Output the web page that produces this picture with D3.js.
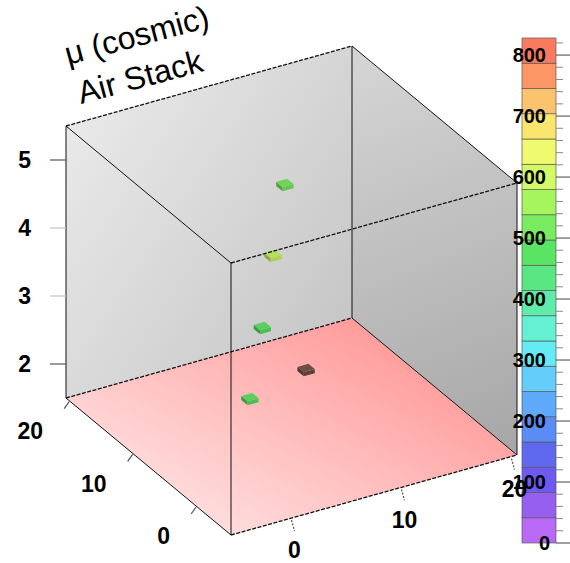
<!DOCTYPE html>
<html>
<head>
<meta charset="utf-8">
<script src="https://cdn.jsdelivr.net/npm/d3@7"></script>
<style>
body { margin: 0; background: #fff; }
text { font-family: "Liberation Sans", Arial, sans-serif; }
</style>
</head>
<body>
<div id="chart"></div>
<script>
// axis ticks
var xTicks = [0, 10, 20],
    yTicks = [0, 10, 20],
    zTicks = [2, 3, 4, 5],
    paletteTicks = [0, 100, 200, 300, 400, 500, 600, 700, 800];

// hits (bin centre x, y, layer z, content)
var hitX = [7.5, 6.45, 5.4, 4.3, 10.5],
    hitY = [8.55, 8.6, 8.45, 8.5, 10.4],
    hitZ = [5, 4, 3, 2, 2],
    hitE = [505, 620, 480, 470, 860];

var titleLines = ['\u03bc (cosmic)', 'Air Stack'];

// palette bands, bottom to top
var bandColors = ['#b969f5', '#965ff0', '#6e5af0', '#5f69f0', '#5a8cf5', '#5fa9fa',
    '#64cdfa', '#64ebf5', '#64f0d2', '#5fecaa', '#5ae682', '#5ae464', '#78eb5f',
    '#a5f55f', '#d2fa64', '#f0fa6e', '#fae66e', '#fcc36e', '#fc9664', '#f97a5e'];

var W = 570, H = 563,
    xRange = [-5.5, 20.5], yRange = [-5.5, 20.5], zRange = [1.5, 5.5], eMax = 828;

var svg = d3.select('#chart').append('svg')
        .attr('width', W)
        .attr('height', H),
    defs = svg.append('defs');

var xS = d3.scaleLinear().domain(xRange).range([0, 1]),
    yS = d3.scaleLinear().domain(yRange).range([0, 1]),
    zS = d3.scaleLinear().domain(zRange).range([0, 1]);

// projection of the box: front-bottom corner and the three edge vectors
var origin = [231, 535], ex = [286, -80], ey = [-165, -137], ez = [0, -272];
var proj = function(x, y, z) {
    var a = xS(x), b = yS(y), c = zS(z);
    return [origin[0] + a*ex[0] + b*ey[0] + c*ez[0],
            origin[1] + a*ex[1] + b*ey[1] + c*ez[1]];
};
var poly = d3.line().curve(d3.curveLinearClosed);

var x0 = xRange[0], x1 = xRange[1], y0 = yRange[0], y1 = yRange[1], z0 = zRange[0], z1 = zRange[1];

var grad = function(id, p, q, c0, c1) {
    var g = defs.append('linearGradient')
        .attr('id', id)
        .attr('gradientUnits', 'userSpaceOnUse')
        .attr('x1', p[0]).attr('y1', p[1]).attr('x2', q[0]).attr('y2', q[1]);
    g.append('stop').attr('offset', 0).attr('stop-color', c0);
    g.append('stop').attr('offset', 1).attr('stop-color', c1);
};
grad('gLeft', proj(x0, y1, z1), proj(x1, y1, z0), '#e9e9e9', '#c6c6c6');
grad('gRight', proj(x1, y1, z1), proj(x1, y0, z0), '#d6d6d6', '#a6a6a6');
grad('gFloor', proj(x1, y1, z0), proj(x0, y0, z0), '#ff9c9c', '#ffdcdc');

var box = svg.append('g');

box.append('path')
    .attr('d', poly([proj(x0, y1, z0), proj(x1, y1, z0), proj(x1, y1, z1), proj(x0, y1, z1)]))
    .attr('fill', 'url(#gLeft)');
box.append('path')
    .attr('d', poly([proj(x1, y0, z0), proj(x1, y1, z0), proj(x1, y1, z1), proj(x1, y0, z1)]))
    .attr('fill', 'url(#gRight)');
box.append('path')
    .attr('d', poly([proj(x0, y0, z0), proj(x1, y0, z0), proj(x1, y1, z0), proj(x0, y1, z0)]))
    .attr('fill', 'url(#gFloor)');

// colour of a hit
var quant = d3.scaleQuantize().domain([0, eMax]).range(bandColors);
var hitColor = function(e) {
    if (e > eMax) return d3.interpolateRgb(bandColors[bandColors.length-1], '#3a3a3a')(0.72);
    return quant(e);
};

// hits as thin boxes, back ones first
var hits = d3.range(hitX.length).map(function(i) {
    return {x: hitX[i], y: hitY[i], z: hitZ[i], e: hitE[i]};
}).sort(function(a, b) { return (b.x + b.y) - (a.x + a.y); });

var hs = 0.5, th = 0.06;
var hg = box.selectAll('.hit')
    .data(hits)
    .enter()
    .append('g')
    .attr('class', 'hit');

hg.append('path')   // -x face
    .attr('d', function(d) {
        return poly([proj(d.x-hs, d.y-hs, d.z-th), proj(d.x-hs, d.y+hs, d.z-th),
                     proj(d.x-hs, d.y+hs, d.z), proj(d.x-hs, d.y-hs, d.z)]);
    })
    .attr('fill', function(d) { return d3.color(hitColor(d.e)).darker(1.1); });
hg.append('path')   // -y face
    .attr('d', function(d) {
        return poly([proj(d.x-hs, d.y-hs, d.z-th), proj(d.x+hs, d.y-hs, d.z-th),
                     proj(d.x+hs, d.y-hs, d.z), proj(d.x-hs, d.y-hs, d.z)]);
    })
    .attr('fill', function(d) { return d3.color(hitColor(d.e)).darker(0.5); });
hg.append('path')   // top
    .attr('d', function(d) {
        return poly([proj(d.x-hs, d.y-hs, d.z), proj(d.x+hs, d.y-hs, d.z),
                     proj(d.x+hs, d.y+hs, d.z), proj(d.x-hs, d.y+hs, d.z)]);
    })
    .attr('fill', function(d) {
        var c = d3.color(hitColor(d.e));
        return d.e > eMax ? c : d3.interpolateRgb(c, '#5a8a50')(0.25);
    });

// box edges
var edges = [
    [[x0, y1, z1], [x1, y1, z1], true],
    [[x0, y0, z1], [x1, y0, z1], true],
    [[x0, y1, z0], [x1, y1, z0], true],
    [[x0, y0, z0], [x1, y0, z0], true],
    [[x1, y1, z1], [x1, y0, z1], false],
    [[x0, y1, z1], [x0, y0, z1], false],
    [[x1, y1, z0], [x1, y0, z0], false],
    [[x0, y1, z0], [x0, y0, z0], false],
    [[x0, y1, z0], [x0, y1, z1], false],
    [[x1, y1, z0], [x1, y1, z1], false],
    [[x1, y0, z0], [x1, y0, z1], false],
    [[x0, y0, z0], [x0, y0, z1], false]
];
box.selectAll('.edge')
    .data(edges)
    .enter()
    .append('line')
    .attr('class', 'edge')
    .attr('x1', function(d) { return proj.apply(null, d[0])[0]; })
    .attr('y1', function(d) { return proj.apply(null, d[0])[1]; })
    .attr('x2', function(d) { return proj.apply(null, d[1])[0]; })
    .attr('y2', function(d) { return proj.apply(null, d[1])[1]; })
    .attr('stroke', '#111')
    .attr('stroke-width', function(d) { return d[2] ? 1.3 : 1; })
    .attr('stroke-dasharray', function(d) { return d[2] ? '4,1.5' : null; });

// z axis (left vertical edge)
var zax = svg.append('g');
zTicks.forEach(function(v) {
    var p = proj(x0, y1, v);
    zax.append('line')
        .attr('x1', p[0] - 16).attr('x2', p[0])
        .attr('y1', p[1]).attr('y2', p[1])
        .attr('stroke', (v === 2 || v === 5) ? '#555' : '#c4c4c4')
        .attr('stroke-width', 1.2);
    zax.append('text')
        .attr('x', p[0] - 35).attr('y', p[1])
        .attr('dy', '0.36em')
        .attr('text-anchor', 'end')
        .style('font-size', '23px')
        .style('font-weight', 'bold')
        .text(v);
});

// y axis (left floor edge)
var yax = svg.append('g');
yTicks.forEach(function(v) {
    var p = proj(x0, v, z0);
    yax.append('line')
        .attr('x1', p[0]).attr('y1', p[1] + 1)
        .attr('x2', p[0] - 5).attr('y2', p[1] + 8)
        .attr('stroke', '#555')
        .attr('stroke-width', 1.2);
    yax.append('text')
        .attr('x', p[0] - 26).attr('y', p[1] + 30)
        .attr('dy', '0.36em')
        .attr('text-anchor', 'end')
        .style('font-size', '23px')
        .style('font-weight', 'bold')
        .text(v);
});

// palette
var eS = d3.scaleLinear().domain([0, eMax]).range([543, 38]),
    pal = svg.append('g'),
    bw = eMax / bandColors.length;

pal.selectAll('rect')
    .data(bandColors)
    .enter()
    .append('rect')
    .attr('x', 522)
    .attr('width', 34)
    .attr('y', function(d, i) { return eS((i+1)*bw); })
    .attr('height', function(d, i) { return eS(i*bw) - eS((i+1)*bw); })
    .attr('fill', function(d) { return d; })
    .attr('stroke', '#5a5a5a')
    .attr('stroke-width', 0.7);

d3.range(0, eMax, 20).forEach(function(v) {
    var major = v % 100 === 0;
    pal.append('line')
        .attr('x1', 556).attr('x2', major ? 570 : 563)
        .attr('y1', eS(v)).attr('y2', eS(v))
        .attr('stroke', major ? '#444' : '#888')
        .attr('stroke-width', 1);
});

pal.selectAll('.plab')
    .data(paletteTicks)
    .enter()
    .append('text')
    .attr('class', 'plab')
    .attr('x', function(d) { return d === 0 ? 550 : 546; })
    .attr('y', function(d) { return eS(d); })
    .attr('dy', '0.36em')
    .attr('text-anchor', 'end')
    .style('font-size', '20px')
    .style('font-weight', 'bold')
    .text(function(d) { return d; });

// x axis (right floor edge), drawn over the palette like the original
var xax = svg.append('g');
xTicks.forEach(function(v) {
    var p = proj(v, y0, z0);
    xax.append('line')
        .attr('x1', p[0]).attr('y1', p[1] + 2)
        .attr('x2', p[0] + 3).attr('y2', p[1] + 13)
        .attr('stroke', '#555')
        .attr('stroke-width', 1.2)
        .attr('stroke-dasharray', '2,1.5');
    xax.append('text')
        .attr('x', p[0] + 3).attr('y', p[1] + 32)
        .attr('dy', '0.36em')
        .attr('text-anchor', 'middle')
        .style('font-size', '23px')
        .style('font-weight', 'bold')
        .text(v);
});

// title
var tpos = [[68, 65], [81, 104]];
svg.selectAll('.title')
    .data(titleLines)
    .enter()
    .append('text')
    .attr('class', 'title')
    .attr('transform', function(d, i) { return 'translate(' + tpos[i][0] + ',' + tpos[i][1] + ') rotate(-15)'; })
    .style('font-size', '32px')
    .text(function(d) { return d; });
</script>
</body>
</html>
